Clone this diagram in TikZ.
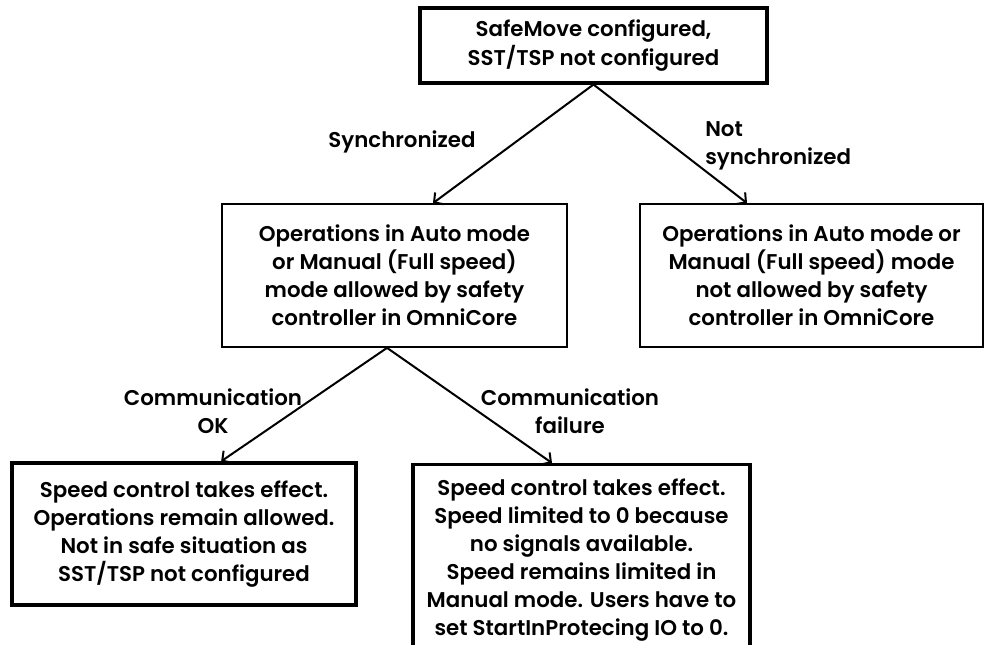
\documentclass[tikz,border=0pt]{standalone}
\usepackage{fontspec}
\setmainfont{Poppins}[UprightFont=* SemiBold]
\usetikzlibrary{arrows.meta, positioning}

\begin{document}
\begin{tikzpicture}[
    x=0.75pt, y=-0.75pt,
    >={Straight Barb[length=5pt, width=11pt]},
    % Node styles
    state/.style={rectangle, draw=black, line width=1.3pt, align=center, inner sep=0pt, minimum width=258.75pt, minimum height=107.25pt, font=\fontsize{16}{21.1}\selectfont},
    start/.style={state, line width=2.3pt, minimum width=260.25pt, minimum height=56.25pt},
    result/.style={state, line width=2.5pt, minimum width=258pt, minimum height=106.5pt},
    cond/.style={align=center, inner sep=0pt, font=\fontsize{16}{21.1}\selectfont},
    % Arrow styles
    arrow/.style={->, line width=1.5pt},
]
\useasboundingbox (0,0) rectangle (985,645);

% Root
\node (root) [start] at (593.5,45.5) {SafeMove configured,\\SST/TSP not configured};

% Second level
\node (sync) [state] at (394.5,275.5) {Operations in Auto mode\\or Manual (Full speed)\\mode allowed by safety\\controller in OmniCore};
\node (nosync) [state, minimum width=257.25pt] at (811.5,275.5) {Operations in Auto mode or\\Manual (Full speed) mode\\not allowed by safety\\controller in OmniCore};

% Third level
\node (commok) [result] at (184,534) {Speed control takes effect.\\Operations remain allowed.\\Not in safe situation as\\SST/TSP not configured};
\node (commfail) [result, anchor=north, minimum width=252.75pt, minimum height=0pt, inner ysep=10.5pt, text depth=30pt] at (581.5,463) {Speed control takes effect.\\Speed limited to 0 because\\no signals available.\\Speed remains limited in\\Manual mode. Users have to\\set StartInProtecing IO to 0.};

% Connectors
\coordinate (rootfoot) at (root.south);
\coordinate (syncfoot) at ([xshift=-5.6pt]sync.south);
\draw [arrow] (rootfoot) -- (sync.north -| 433,0);
\draw [arrow] (rootfoot) -- (nosync.north -| 747,0);
\draw [arrow] (syncfoot) -- (sync.south west |- commok.north);
\draw [arrow] (syncfoot) -- (commfail.north -| 552,0);

% Connector labels
\node (lsync) [cond] at (402,142) {Synchronized};
\node (lnosync) [cond, align=left, anchor=west] at (705,146) {Not\\synchronized};
\node (lok) [cond] at (213,411) {Communication\\OK};
\node (lfail) [cond] at (570,411) {Communication\\failure};

\end{tikzpicture}
\end{document}
